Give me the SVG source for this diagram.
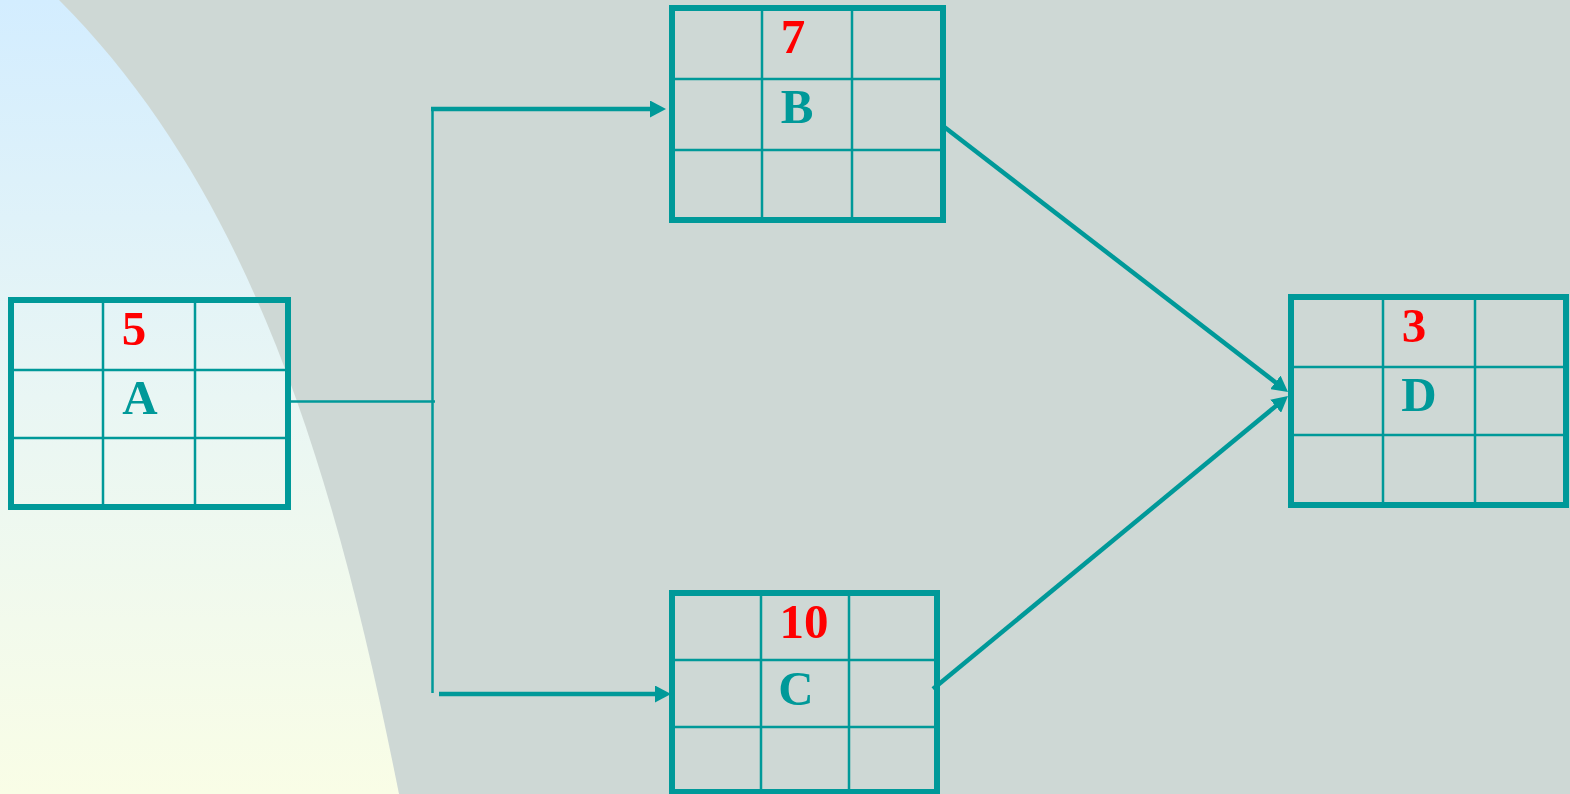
<svg xmlns="http://www.w3.org/2000/svg" width="1570" height="794" viewBox="0 0 1570 794">
<defs>
<linearGradient id="bgGrad" x1="0" y1="0" x2="0" y2="1">
<stop offset="0" stop-color="#D3EDFF"/>
<stop offset="0.5" stop-color="#E9F6F4"/>
<stop offset="1" stop-color="#F9FDE6"/>
</linearGradient>
<marker id="arrow" markerUnits="userSpaceOnUse" markerWidth="17" markerHeight="17" refX="9" refY="8.5" orient="auto">
<path d="M0,0 L16,8.5 L0,17 z" fill="#009999"/>
</marker>
<style>
.outer{fill:none;stroke:#009999;stroke-width:6}
.inner{stroke:#009999;stroke-width:2.5;fill:none}
.num{font-family:"Liberation Serif","Times New Roman",serif;font-weight:bold;font-size:49px;fill:#FF0000;text-anchor:middle}
.lbl{font-family:"Liberation Serif","Times New Roman",serif;font-weight:bold;font-size:49px;fill:#009999;text-anchor:middle}
.thin{stroke:#009999;stroke-width:2.5;fill:none}
.thick{stroke:#009999;stroke-width:4.5;fill:none}
</style>
</defs>
<rect x="0" y="0" width="1570" height="794" fill="#CED8D5"/>
<path d="M59,0 C259,200 339,494 399,794 L0,794 L0,0 Z" fill="url(#bgGrad)"/>

<g id="connectors">
<line class="thin" x1="291" y1="401.5" x2="435" y2="401.5"/>
<line class="thin" x1="432.5" y1="108" x2="432.5" y2="693"/>
<line class="thick" x1="431" y1="109" x2="659" y2="109" marker-end="url(#arrow)"/>
<line class="thick" x1="439" y1="694" x2="664" y2="694" marker-end="url(#arrow)"/>
<line class="thick" x1="943" y1="126" x2="1282.5" y2="387.8" marker-end="url(#arrow)"/>
<line class="thick" x1="933" y1="689" x2="1282.6" y2="400.5" marker-end="url(#arrow)"/>
</g>

<g id="node-A">
<path class="inner" d="M103,300 V507 M195,300 V507 M11,370 H288 M11,438 H288"/>
<rect class="outer" x="11" y="300" width="277" height="207"/>
<text class="num" x="134" y="345">5</text>
<text class="lbl" x="140" y="414">A</text>
</g>

<g id="node-B">
<path class="inner" d="M762,8 V220 M852,8 V220 M672,79 H943 M672,150 H943"/>
<rect class="outer" x="672" y="8" width="271" height="212"/>
<text class="num" x="793" y="53">7</text>
<text class="lbl" x="797" y="123">B</text>
</g>

<g id="node-C">
<path class="inner" d="M761,593 V792 M849,593 V792 M672,660 H937 M672,727 H937"/>
<rect class="outer" x="672" y="593" width="265" height="199"/>
<text class="num" x="804" y="638">10</text>
<text class="lbl" x="796" y="705">C</text>
</g>

<g id="node-D">
<path class="inner" d="M1383,297 V505 M1475,297 V505 M1291,367 H1566 M1291,435 H1566"/>
<rect class="outer" x="1291" y="297" width="275" height="208"/>
<text class="num" x="1414" y="342">3</text>
<text class="lbl" x="1419" y="411">D</text>
</g>
</svg>
